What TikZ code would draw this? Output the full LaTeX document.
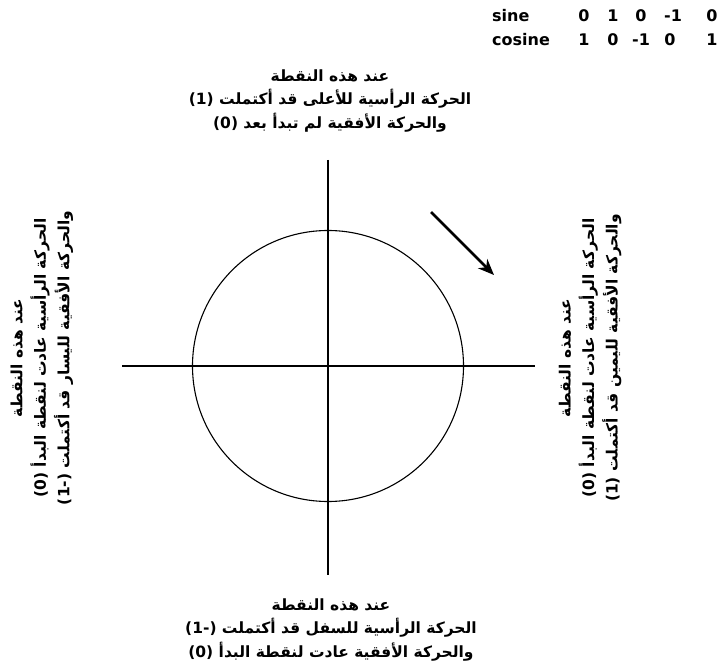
\documentclass[tikz,border=0pt]{standalone}
\usepackage{fontspec}
\setmainfont{Liberation Sans}
\newfontfamily\arabicfont[Script=Arabic]{DejaVu Sans}
\newfontfamily\tabfont{DejaVu Sans}
\TeXXeTstate=1
\usetikzlibrary{arrows.meta}
\begin{document}
\begin{tikzpicture}[x=1pt,y=-1pt,
  axis/.style={line width=1.1pt},
  artext/.style={font=\arabicfont\bfseries\fontsize{15.5}{23.5}\selectfont, align=center, inner sep=0pt},
  tab/.style={font=\tabfont\bfseries\fontsize{16}{18}\selectfont, inner sep=0pt, anchor=base}]
\useasboundingbox (0,0) rectangle (721,666);
% axes and circle
\coordinate (O) at (328,366);
\coordinate (xl) at (122,366);
\coordinate (xr) at (535,366);
\coordinate (yt) at (328,160);
\coordinate (yb) at (328,575);
\draw[axis] (xl) -- (xr);
\draw[axis] (yt) -- (yb);
\node[draw, circle, line width=1.1pt, minimum size=271pt, inner sep=0pt] (c) at (O) {};
% arrow
\coordinate (a1) at (431,212);
\coordinate (a2) at (494,275);
\draw[line width=2.6pt, -{Stealth[length=16pt,width=13pt,inset=5pt]}] (a1) -- (a2);
% table
\node[tab, anchor=base west] (s) at (492,22) {sine};
\node[tab, anchor=base west] (cs) at (492,46) {cosine};
\node[tab] (s1) at (584,22) {0};
\node[tab] (s2) at (613,22) {1};
\node[tab] (s3) at (641,22) {0};
\node[tab] (s4) at (673,22) {-1};
\node[tab] (s5) at (712,22) {0};
\node[tab] (c1) at (584,46) {1};
\node[tab] (c2) at (613,46) {0};
\node[tab] (c3) at (641,46) {-1};
\node[tab] (c4) at (670,46) {0};
\node[tab] (c5) at (712,46) {1};
% texts
\node[artext] (top) at (330,101) {\beginR عند هذه النقطة\endR\\
  \beginR الحركة الرأسية للأعلى قد أكتملت \beginL(1)\endL\endR\\
  \beginR والحركة الأفقية لم تبدأ بعد \beginL(0)\endL\endR};
\node[artext] (bot) at (331,630) {\beginR عند هذه النقطة\endR\\
  \beginR الحركة الرأسية للسفل قد أكتملت \beginL(-1)\endL\endR\\
  \beginR والحركة الأفقية عادت لنقطة البدأ \beginL(0)\endL\endR};
\node[artext, rotate=90] (left) at (42,358) {\beginR عند هذه النقطة\endR\\
  \beginR الحركة الرأسية عادت لنقطة البدأ \beginL(0)\endL\endR\\
  \beginR والحركة الأفقية لليسار قد أكتملت \beginL(-1)\endL\endR};
\node[artext, rotate=90] (right) at (590,358) {\beginR عند هذه النقطة\endR\\
  \beginR الحركة الرأسية عادت لنقطة البدأ \beginL(0)\endL\endR\\
  \beginR والحركة الأفقية لليمين قد أكتملت \beginL(1)\endL\endR};
\end{tikzpicture}
\end{document}
